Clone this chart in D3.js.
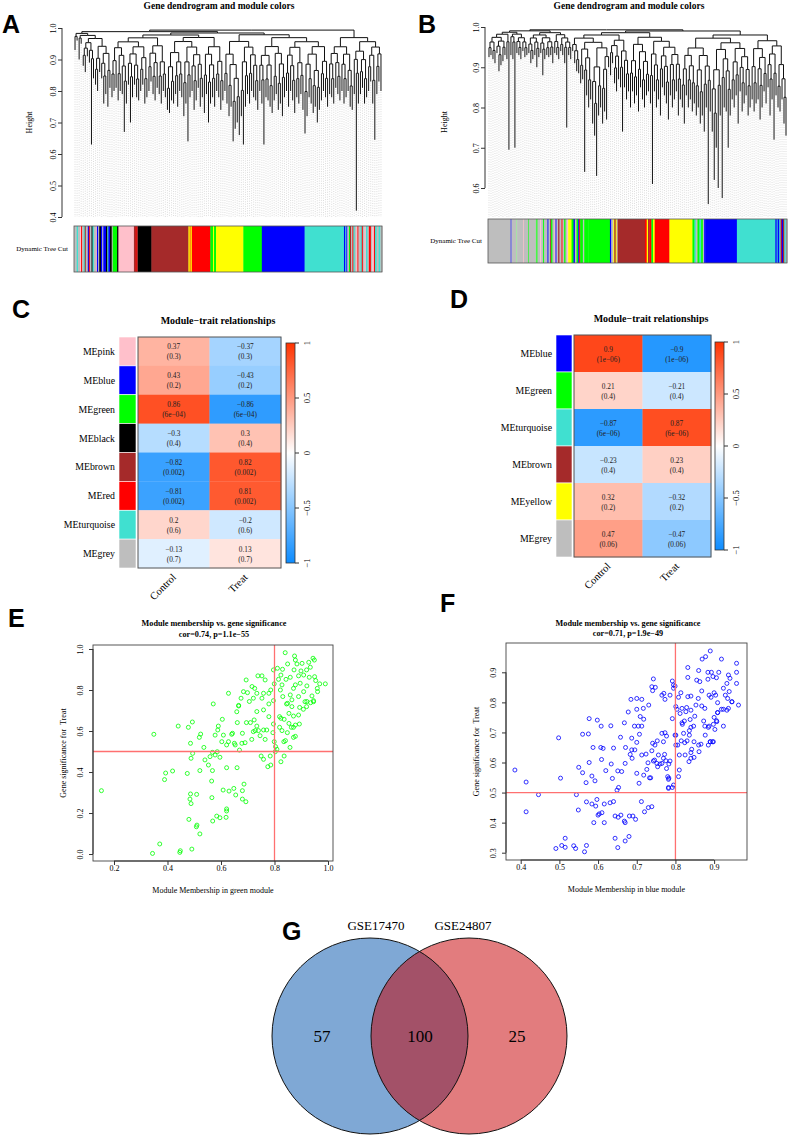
<!DOCTYPE html>
<html>
<head>
<meta charset="utf-8">
<script src="https://cdn.jsdelivr.net/npm/d3@7"></script>
<style>body{margin:0;background:#fff}</style>
</head>
<body>
<script>
// ---------- data ----------
// dendrogram leaf heights (bottom of each leaf line), read left to right
const leavesA = [0.93,0.96,0.90,0.95,0.88,0.86,0.91,0.89,0.63,0.84,0.82,0.80,0.86,0.84,0.76,
  0.79,0.75,0.81,0.78,0.80,0.81,0.77,0.80,0.79,0.67,0.76,0.82,0.70,0.78,0.82,
  0.78,0.77,0.80,0.82,0.76,0.78,0.80,0.83,0.79,0.77,0.81,0.79,0.76,0.80,0.78,
  0.74,0.73,0.77,0.76,0.79,0.75,0.80,0.78,0.72,0.76,0.64,0.78,0.80,0.74,0.77,
  0.81,0.75,0.78,0.73,0.79,0.70,0.76,0.78,0.75,0.80,0.78,0.74,0.77,0.80,0.76,
  0.72,0.75,0.64,0.68,0.70,0.66,0.72,0.63,0.75,0.79,0.76,0.80,0.78,0.77,0.74,
  0.80,0.76,0.63,0.78,0.77,0.75,0.73,0.77,0.79,0.74,0.76,0.72,0.78,0.80,0.75,
  0.80,0.77,0.73,0.78,0.76,0.79,0.74,0.665,0.72,0.78,0.76,0.73,0.75,0.70,0.74,
  0.77,0.80,0.78,0.75,0.79,0.78,0.76,0.81,0.79,0.77,0.80,0.76,0.78,0.80,0.75,
  0.74,0.79,0.42,0.76,0.79,0.81,0.76,0.78,0.80,0.83,0.76,0.645,0.79,0.83,0.80];
const leavesB = [0.925,0.93,0.92,0.91,0.935,0.89,0.905,0.915,0.93,0.92,0.695,0.93,0.92,0.70,0.935,
  0.93,0.92,0.94,0.925,0.93,0.935,0.91,0.92,0.93,0.90,0.925,0.935,0.88,0.92,0.93,
  0.925,0.93,0.91,0.935,0.93,0.92,0.94,0.93,0.91,0.75,0.93,0.92,0.94,0.91,0.89,
  0.885,0.86,0.87,0.64,0.83,0.80,0.82,0.76,0.73,0.63,0.78,0.80,0.76,0.79,0.77,
  0.90,0.88,0.91,0.86,0.84,0.87,0.85,0.74,0.85,0.82,0.84,0.80,0.84,0.81,0.83,
  0.79,0.85,0.82,0.80,0.83,0.84,0.81,0.61,0.84,0.80,0.82,0.78,0.85,0.83,0.81,
  0.77,0.83,0.80,0.82,0.84,0.78,0.82,0.80,0.76,0.83,0.80,0.82,0.79,0.81,0.78,
  0.80,0.76,0.78,0.74,0.80,0.56,0.79,0.74,0.62,0.70,0.60,0.78,0.575,0.80,0.79,
  0.70,0.78,0.82,0.80,0.83,0.76,0.84,0.79,0.81,0.83,0.78,0.80,0.82,0.79,0.81,
  0.82,0.77,0.80,0.84,0.81,0.85,0.78,0.82,0.72,0.83,0.80,0.79,0.82,0.76,0.73];

// module colour strips (colour, relative width)
const stripColA = ['grey','turquoise','grey','pink','red','grey','turquoise','brown','grey','blue','red','grey','black','turquoise','grey','pink','blue','grey',
  'black','blue','grey','blue','black','turquoise','blue','black','grey',
  'green','black','pink','brown','red','brown','black','brown','yellow','red','yellow','red',
  'green','yellow','green','yellow','green','blue','turquoise',
  'blue','turquoise','blue','grey','green','brown','grey','red','turquoise','grey','pink','red','grey','turquoise','red','grey','pink','turquoise','grey','red','grey','pink','red','turquoise','grey','turquoise','grey'];
const stripSizeA = [8,4,6,3,3,5,3,3,6,3,3,5,3,4,6,3,4,3,
  5,4,3,8,4,3,5,5,3,
  13,4,46,5,3,4,40,110,4,2,4,55,
  8,3,6,81,55,127,117,
  4,3,3,5,3,3,4,3,4,5,3,3,6,4,3,5,4,5,4,6,4,5,3,5,6,5,5];
const stripColB = ['grey','blue',
  'grey','lightgreen','grey','pink','grey','green','grey','lightgreen',
  'green','grey','pink','grey','green','grey','blue','grey','brown','green','grey','pink','blue','grey','brown','grey','red','grey','green','grey','pink',
  'yellow','green','blue','grey','green','blue','red','green','grey','green',
  'green','blue','grey','yellow','brown','yellow','grey','brown',
  'red','yellow','brown','red','green','yellow','red',
  'red','yellow','green','turquoise','grey','green','turquoise','green','grey','blue',
  'blue','turquoise','blue','turquoise','blue','turquoise','red','blue','brown','turquoise','grey'];
const stripSizeB = [68,2,
  15,2,18,2,14,2,20,2,
  3,8,3,6,3,10,3,5,3,4,6,3,3,5,4,6,3,5,4,4,4,
  10,6,4,5,5,3,3,8,4,12,
  65,4,6,3,4,3,3,82,
  5,4,4,6,5,5,6,
  38,69,6,4,5,6,5,5,4,3,
  95,115,4,3,5,4,3,4,4,4,4];

// module-trait heatmaps
const traits = ['Control','Treat'];
const modulesC = ['MEpink','MEblue','MEgreen','MEblack','MEbrown','MEred','MEturquoise','MEgrey'];
const colorsC = ['pink','blue','green','black','brown','red','turquoise','grey'];
const corCtrlC = [0.37,0.43,0.86,-0.3,-0.82,-0.81,0.2,-0.13];
const corTreatC = [-0.37,-0.43,-0.86,0.3,0.82,0.81,-0.2,0.13];
const pC = ['0.3','0.2','6e−04','0.4','0.002','0.002','0.6','0.7'];
const modulesD = ['MEblue','MEgreen','MEturquoise','MEbrown','MEyellow','MEgrey'];
const colorsD = ['blue','green','turquoise','brown','yellow','grey'];
const corCtrlD = [0.9,0.21,-0.87,-0.23,0.32,0.47];
const corTreatD = [-0.9,-0.21,0.87,0.23,-0.32,-0.47];
const pD = ['1e−06','0.4','6e−06','0.4','0.2','0.06'];
const legendTicks = [-1,-0.5,0,0.5,1];

// module membership vs gene significance
const ptsE = [[0.153,0.309],[0.349,0.584],[0.44,0.624],[0.478,0.618],[0.493,0.644],[0.524,0.585],[0.519,0.569],[0.486,0.54],[0.536,0.52],[0.494,0.491],[0.488,0.467],[0.54,0.459],[0.553,0.434],[0.568,0.496],[0.559,0.475],[0.578,0.483],[0.586,0.499],[0.596,0.472],[0.571,0.732],[0.588,0.605],[0.59,0.624],[0.578,0.58],[0.603,0.548],[0.609,0.58],[0.605,0.657],[0.643,0.589],[0.64,0.584],[0.628,0.548],[0.621,0.532],[0.653,0.532],[0.65,0.54],[0.669,0.507],[0.678,0.54],[0.69,0.543],[0.661,0.641],[0.659,0.694],[0.666,0.725],[0.68,0.589],[0.695,0.641],[0.71,0.641],[0.724,0.654],[0.734,0.624],[0.715,0.559],[0.721,0.597],[0.728,0.602],[0.74,0.602],[0.746,0.577],[0.759,0.605],[0.771,0.605],[0.765,0.559],[0.75,0.478],[0.759,0.462],[0.784,0.478],[0.775,0.426],[0.786,0.434],[0.794,0.592],[0.796,0.634],[0.799,0.548],[0.804,0.524],[0.809,0.511],[0.803,0.499],[0.824,0.45],[0.836,0.478],[0.819,0.618],[0.828,0.602],[0.836,0.657],[0.824,0.662],[0.835,0.548],[0.841,0.553],[0.858,0.52],[0.848,0.592],[0.854,0.637],[0.863,0.618],[0.871,0.569],[0.878,0.574],[0.871,0.618],[0.878,0.629],[0.893,0.634],[0.89,0.678],[0.894,0.715],[0.871,0.673],[0.854,0.686],[0.845,0.732],[0.908,0.706],[0.92,0.719],[0.935,0.738],[0.946,0.743],[0.914,0.743],[0.865,0.719],
  [0.393,0.395],[0.419,0.405],[0.389,0.363],[0.474,0.393],[0.521,0.407],[0.568,0.407],[0.565,0.356],[0.621,0.421],[0.66,0.421],[0.486,0.293],[0.509,0.291],[0.484,0.268],[0.488,0.246],[0.566,0.275],[0.608,0.312],[0.63,0.307],[0.648,0.32],[0.655,0.288],[0.68,0.309],[0.686,0.341],[0.68,0.268],[0.693,0.255],[0.621,0.22],[0.621,0.21],[0.584,0.185],[0.596,0.177],[0.619,0.179],[0.569,0.161],[0.48,0.169],[0.51,0.141],[0.508,0.133],[0.521,0.098],[0.371,0.049],[0.344,0.003],[0.446,0.008],[0.448,0.016],[0.491,0.024],
  [0.84,0.982],[0.875,0.966],[0.878,0.946],[0.884,0.927],[0.849,0.927],[0.903,0.93],[0.928,0.935],[0.944,0.955],[0.949,0.946],[0.934,0.911],[0.92,0.898],[0.899,0.893],[0.873,0.898],[0.83,0.901],[0.811,0.906],[0.796,0.898],[0.824,0.873],[0.843,0.852],[0.815,0.852],[0.799,0.83],[0.828,0.825],[0.859,0.862],[0.89,0.869],[0.909,0.873],[0.93,0.862],[0.95,0.865],[0.954,0.846],[0.969,0.83],[0.99,0.83],[0.96,0.808],[0.961,0.792],[0.921,0.82],[0.896,0.833],[0.871,0.808],[0.878,0.825],[0.909,0.792],[0.89,0.768],[0.94,0.771],[0.946,0.748],[0.921,0.744],[0.859,0.776],[0.849,0.735],[0.865,0.752],[0.831,0.768],[0.822,0.8],[0.786,0.8],[0.765,0.849],[0.753,0.869],[0.738,0.869],[0.694,0.849],[0.684,0.792],[0.699,0.787],[0.716,0.817],[0.726,0.808],[0.734,0.784],[0.759,0.784],[0.779,0.784],[0.753,0.76],[0.721,0.76],[0.706,0.744],[0.675,0.76],[0.666,0.722],[0.628,0.784],[0.779,0.732],[0.796,0.748],[0.759,0.703],[0.734,0.695],[0.779,0.67],[0.819,0.67]];
const ptsF = [[0.385,0.575],[0.414,0.535],[0.414,0.436],[0.446,0.493],[0.498,0.682],[0.503,0.548],[0.491,0.314],[0.506,0.324],[0.515,0.318],[0.515,0.348],[0.537,0.323],[0.542,0.314],[0.57,0.324],[0.565,0.303],[0.544,0.493],[0.549,0.442],[0.55,0.584],[0.56,0.566],[0.56,0.694],[0.575,0.695],[0.577,0.746],[0.598,0.741],[0.608,0.721],[0.633,0.722],[0.569,0.533],[0.577,0.6],[0.587,0.65],[0.592,0.539],[0.584,0.555],[0.57,0.469],[0.584,0.462],[0.594,0.455],[0.597,0.477],[0.6,0.425],[0.603,0.429],[0.61,0.433],[0.589,0.4],[0.616,0.4],[0.607,0.65],[0.613,0.647],[0.609,0.61],[0.62,0.573],[0.634,0.595],[0.637,0.547],[0.64,0.648],[0.651,0.572],[0.661,0.57],[0.653,0.517],[0.649,0.508],[0.616,0.462],[0.631,0.466],[0.64,0.47],[0.644,0.422],[0.652,0.418],[0.659,0.425],[0.644,0.348],[0.651,0.317],[0.67,0.339],[0.68,0.354],[0.668,0.405],[0.67,0.4],[0.681,0.422],[0.69,0.422],[0.697,0.411],[0.712,0.47],[0.72,0.436],[0.73,0.45],[0.739,0.453],[0.67,0.597],[0.658,0.684],[0.668,0.732],[0.671,0.65],[0.687,0.642],[0.683,0.627],[0.688,0.614],[0.695,0.642],[0.7,0.667],[0.707,0.694],[0.687,0.681],[0.694,0.721],[0.704,0.721],[0.713,0.721],[0.718,0.744],[0.709,0.753],[0.678,0.768],[0.7,0.564],[0.706,0.531],[0.718,0.558],[0.726,0.577],[0.729,0.599],[0.724,0.628],[0.713,0.625],[0.739,0.639],[0.741,0.664],[0.747,0.658],[0.753,0.672],[0.743,0.605],[0.746,0.608],[0.733,0.549],[0.736,0.549],[0.752,0.597],[0.756,0.625],[0.765,0.697],[0.773,0.699],[0.777,0.688],[0.769,0.669],[0.772,0.627],[0.769,0.614],[0.765,0.597],[0.775,0.606],[0.754,0.586],[0.76,0.595],[0.777,0.58],[0.78,0.553],[0.783,0.548],[0.782,0.517],[0.782,0.514],[0.782,0.544],[0.783,0.595],[0.786,0.605],[0.792,0.517],[0.795,0.525],[0.799,0.691],[0.801,0.691],[0.801,0.786],[0.804,0.777],[0.792,0.746],[0.812,0.763],[0.801,0.658],[0.806,0.658],[0.81,0.625],[0.81,0.575],[0.808,0.553],[0.815,0.672],[0.821,0.697],[0.824,0.666],[0.817,0.732],[0.818,0.727],[0.823,0.738],[0.836,0.706],[0.84,0.717],[0.838,0.743],[0.83,0.672],[0.825,0.625],[0.835,0.603],[0.84,0.614],[0.84,0.633],[0.848,0.617],[0.842,0.644],[0.848,0.669],[0.836,0.691],[0.847,0.721],[0.86,0.658],[0.866,0.661],[0.861,0.636],[0.877,0.691],[0.876,0.721],[0.873,0.738],[0.885,0.658],[0.89,0.669],[0.898,0.669],[0.885,0.717],[0.902,0.71],[0.906,0.739],[0.909,0.766],[0.898,0.727],[0.924,0.721],[0.924,0.777],[0.933,0.774],[0.963,0.791],[0.946,0.802],
  [0.89,0.971],[0.878,0.952],[0.869,0.944],[0.919,0.944],[0.958,0.93],[0.832,0.916],[0.86,0.906],[0.884,0.9],[0.893,0.9],[0.912,0.9],[0.958,0.9],[0.897,0.886],[0.884,0.877],[0.906,0.882],[0.937,0.891],[0.941,0.88],[0.832,0.883],[0.855,0.874],[0.863,0.869],[0.743,0.878],[0.792,0.871],[0.795,0.858],[0.795,0.847],[0.799,0.854],[0.814,0.832],[0.832,0.819],[0.84,0.821],[0.859,0.813],[0.868,0.838],[0.887,0.824],[0.892,0.817],[0.9,0.832],[0.904,0.824],[0.924,0.847],[0.933,0.863],[0.958,0.863],[0.939,0.836],[0.929,0.824],[0.935,0.813],[0.946,0.802],[0.909,0.799],[0.937,0.78],[0.919,0.777],[0.909,0.766],[0.9,0.75],[0.887,0.721],[0.89,0.669],[0.896,0.669],[0.907,0.736],[0.713,0.81],[0.7,0.813],[0.739,0.852],[0.748,0.85],[0.741,0.839],[0.773,0.81],[0.808,0.817],[0.786,0.824],[0.77,0.83],[0.765,0.824],[0.685,0.81],[0.7,0.777],[0.717,0.78],[0.731,0.791],[0.817,0.78],[0.827,0.769],[0.829,0.783],[0.84,0.774],[0.853,0.791],[0.85,0.754],[0.868,0.788],[0.876,0.78]];

// venn counts
const vennSets = ['GSE17470','GSE24807'];
const vennCounts = [57,100,25];

// ---------- drawing ----------
const rcol = {grey:'#bebebe',green:'#00ff00',brown:'#a52a2a',turquoise:'#40e0d0',pink:'#ffc0cb',
  yellow:'#ffff00',red:'#ff0000',blue:'#0000ff',black:'#000000',lightgreen:'#90ee90'};
const SERIF = '"Liberation Serif","Times New Roman",serif';
const SANS = '"Liberation Sans",Arial,sans-serif';
const minus = v => (v < 0 ? '\u2212' : '') + Math.abs(v);

const svg = d3.select('body').append('svg').attr('width',789).attr('height',1136)
  .style('font-family',SERIF);

function letter(t,x,y){
  svg.append('text').attr('x',x).attr('y',y).attr('font-family',SANS).attr('font-weight','bold')
    .attr('font-size',25).text(t);
}
function title(lines,x,y,size){
  lines.forEach((l,i)=>svg.append('text').attr('x',x).attr('y',y+i*10.5).attr('text-anchor','middle')
    .attr('font-weight','bold').attr('font-size',size).text(l));
}

// R style axis: line only between first and last tick, labels rotated on vertical axes
function rAxis(g, scale, ticks, orient, pos, off, size){
  const ax = orient==='left' ? d3.axisLeft(scale) : d3.axisBottom(scale);
  const a = g.append('g').attr('transform', orient==='left' ? `translate(${pos},0)` : `translate(0,${pos})`)
    .call(ax.tickValues(ticks).tickSize(4).tickSizeOuter(0).tickFormat(d3.format('.1f')))
    .attr('font-family',SERIF).attr('font-size',size);
  const r = ticks.map(scale);
  a.select('.domain').attr('stroke','#333').attr('d', orient==='left' ? `M0,${r[0]}V${r[r.length-1]}` : `M${r[0]},0H${r[r.length-1]}`);
  a.selectAll('.tick line').attr('stroke','#333');
  if(orient==='left'){
    a.selectAll('.tick text').attr('x',null).attr('dy',null).attr('text-anchor','middle')
      .attr('transform',`translate(${-off},0) rotate(-90)`);
  } else {
    a.selectAll('.tick text').attr('y',off).attr('dy',null);
  }
  return a;
}

// agglomerate neighbouring leaves, lowest pair first
function buildTree(hs){
  let nodes = hs.map((h,i)=>({h, leaf:i}));
  while(nodes.length > 1){
    let best = 0, bh = Infinity;
    for(let i=0;i<nodes.length-1;i++){
      const m = Math.max(nodes[i].h, nodes[i+1].h);
      if(m < bh){ bh = m; best = i; }
    }
    const a = nodes[best], b = nodes[best+1];
    const node = {h: Math.min(0.998, bh + (1-bh)*0.26 + Math.abs(a.h-b.h)*0.1), children:[a,b]};
    nodes.splice(best, 2, node);
  }
  return nodes[0];
}

function dendro(o){
  const g = svg.append('g');
  const y = d3.scaleLinear().domain(o.yDomain).range([o.yb, o.yt]);
  const xl = d3.scalePoint().domain(d3.range(o.leaves.length)).range([o.x0, o.x1]).padding(0.5);
  const root = d3.hierarchy(buildTree(o.leaves));
  root.eachAfter(n => { n.px = n.children ? d3.mean(n.children, c => c.px) : xl(n.data.leaf); });
  g.selectAll('line.guide').data(root.leaves()).join('line')
    .attr('x1',d=>d.px).attr('x2',d=>d.px).attr('y1',d=>y(d.data.h)+1).attr('y2',o.yb)
    .attr('stroke','#c4c4c4').attr('stroke-width',0.6).attr('stroke-dasharray','1,1.4');
  g.selectAll('path.link').data(root.links()).join('path')
    .attr('d',l=>`M${l.target.px},${y(l.target.data.h)}V${y(l.source.data.h)}H${l.source.px}`)
    .attr('fill','none').attr('stroke','#111').attr('stroke-width',1.0);
  rAxis(g, y, o.ticks, 'left', o.ax, 6, 8);
  g.append('text').attr('transform',`translate(${o.hx},${(o.yt+o.yb)/2}) rotate(-90)`)
    .attr('text-anchor','middle').attr('font-size',8).text('Height');
  // colour strip
  const cum = [0, ...d3.cumsum(o.sizes)];
  const xs = d3.scaleLinear().domain([0, cum[cum.length-1]]).range([o.x0, o.x1]);
  g.selectAll('rect.strip').data(o.colors).join('rect')
    .attr('x',(d,i)=>xs(cum[i])).attr('width',(d,i)=>xs(cum[i+1])-xs(cum[i])+0.4)
    .attr('y',o.cy0).attr('height',o.cy1-o.cy0).attr('fill',d=>rcol[d]);
  g.append('rect').attr('x',o.x0).attr('y',o.cy0).attr('width',o.x1-o.x0).attr('height',o.cy1-o.cy0)
    .attr('fill','none').attr('stroke','#555').attr('stroke-width',0.8);
  g.append('text').attr('x',o.x0-6).attr('y',(o.cy0+o.cy1)/2+2).attr('text-anchor','end')
    .attr('font-size',7).text('Dynamic Tree Cut');
}

const heatColor = d3.scaleLinear().domain([-1,0,1]).range(['rgb(13,140,255)','#ffffff','rgb(255,51,0)']);

function heatmap(o){
  const g = svg.append('g');
  const y = d3.scaleBand().domain(o.modules).range([o.y0, o.y1]);
  const x = d3.scaleBand().domain(traits).range([o.hx0, o.hx1]);
  g.selectAll('rect.mc').data(o.modules).join('rect')
    .attr('x',o.cx0).attr('width',o.cx1-o.cx0).attr('y',d=>y(d)).attr('height',y.bandwidth())
    .attr('fill',(d,i)=>rcol[o.colors[i]]).attr('stroke','#fff').attr('stroke-width',0.6);
  g.selectAll('text.ml').data(o.modules).join('text')
    .attr('x',o.cx0-4).attr('y',d=>y(d)+y.bandwidth()/2+3.5).attr('text-anchor','end')
    .attr('font-size',9.8).text(d=>d);
  const cells = [];
  o.modules.forEach((m,i)=>{
    cells.push({m, t:'Control', v:o.ctrl[i], p:o.p[i]});
    cells.push({m, t:'Treat', v:o.treat[i], p:o.p[i]});
  });
  g.selectAll('rect.cell').data(cells).join('rect')
    .attr('x',d=>x(d.t)).attr('y',d=>y(d.m)).attr('width',x.bandwidth()+0.3).attr('height',y.bandwidth()+0.3)
    .attr('fill',d=>heatColor(d.v));
  const ct = g.selectAll('g.ct').data(cells).join('g')
    .attr('transform',d=>`translate(${x(d.t)+x.bandwidth()/2},${y(d.m)+y.bandwidth()/2})`)
    .attr('text-anchor','middle').attr('font-size',7.3).attr('fill','#222');
  ct.append('text').attr('y',-2).text(d=>minus(d.v));
  ct.append('text').attr('y',8).text(d=>'('+d.p+')');
  g.append('rect').attr('x',o.hx0).attr('y',o.y0).attr('width',o.hx1-o.hx0).attr('height',o.y1-o.y0)
    .attr('fill','none').attr('stroke','#555').attr('stroke-width',1);
  g.selectAll('text.tl').data(traits).join('text')
    .attr('transform',d=>`translate(${x(d)+x.bandwidth()/2+3},${o.y1+10}) rotate(-45)`)
    .attr('text-anchor','end').attr('font-size',10.5).text(d=>d);
  // legend
  const gid = 'grad' + o.id;
  const grad = svg.append('defs').append('linearGradient').attr('id',gid)
    .attr('x1',0).attr('x2',0).attr('y1',1).attr('y2',0);
  d3.range(0,1.0001,0.1).forEach(t=>grad.append('stop').attr('offset',t).attr('stop-color',heatColor(t*2-1)));
  const ly = d3.scaleLinear().domain([-1,1]).range([o.ly1, o.ly0]);
  g.append('rect').attr('x',o.lx).attr('y',o.ly0).attr('width',9).attr('height',o.ly1-o.ly0)
    .attr('fill',`url(#${gid})`).attr('stroke','#333').attr('stroke-width',0.8);
  const lt = g.selectAll('g.lt').data(legendTicks).join('g').attr('transform',d=>`translate(${o.lx+9},${ly(d)})`);
  lt.append('line').attr('x2',4).attr('stroke','#333');
  lt.append('text').attr('transform','translate(15,0) rotate(-90)').attr('text-anchor','middle')
    .attr('font-size',8.5).text(d=>minus(d));
}

function scatter(o){
  const g = svg.append('g');
  const x = d3.scaleLinear().domain(o.xDomain).range([o.bx0, o.bx1]);
  const y = d3.scaleLinear().domain(o.yDomain).range([o.by1, o.by0]);
  g.selectAll('circle').data(o.pts).join('circle')
    .attr('cx',d=>x(d[0])).attr('cy',d=>y(d[1])).attr('r',2)
    .attr('fill','none').attr('stroke',o.color).attr('stroke-width',0.8);
  g.append('line').attr('x1',x(0.8)).attr('x2',x(0.8)).attr('y1',o.by0).attr('y2',o.by1)
    .attr('stroke','#ff7070').attr('stroke-width',1.3);
  g.append('line').attr('x1',o.bx0).attr('x2',o.bx1).attr('y1',y(0.5)).attr('y2',y(0.5))
    .attr('stroke','#ff7070').attr('stroke-width',1.3);
  g.append('rect').attr('x',o.bx0).attr('y',o.by0).attr('width',o.bx1-o.bx0).attr('height',o.by1-o.by0)
    .attr('fill','none').attr('stroke','#444').attr('stroke-width',0.9);
  rAxis(g, x, o.xTicks, 'bottom', o.by1, 10, 8);
  rAxis(g, y, o.yTicks, 'left', o.bx0, 10, 8);
  g.append('text').attr('x',(o.bx0+o.bx1)/2).attr('y',o.by1+32).attr('text-anchor','middle')
    .attr('font-size',8).text(o.xLabel);
  g.append('text').attr('transform',`translate(${o.bx0-27},${(o.by0+o.by1)/2}) rotate(-90)`)
    .attr('text-anchor','middle').attr('font-size',8).attr('xml:space','preserve').text('Gene significance for  Treat');
}

// A, B dendrograms
letter('A',2,33);
title(['Gene dendrogram and module colors'],219,9,9.5);
dendro({leaves:leavesA, yDomain:[0.4,1.0], yb:217, yt:28, x0:74, x1:382, ax:62, hx:32,
  ticks:[0.4,0.5,0.6,0.7,0.8,0.9,1.0], colors:stripColA, sizes:stripSizeA, cy0:226, cy1:272});
letter('B',418,33);
title(['Gene dendrogram and module colors'],629,9,9.5);
dendro({leaves:leavesB, yDomain:[0.528,1.0], yb:217, yt:27, x0:488, x1:787, ax:485, hx:447,
  ticks:[0.6,0.7,0.8,0.9,1.0], colors:stripColB, sizes:stripSizeB, cy0:219, cy1:263});

// C, D heatmaps
letter('C',12,318);
title(['Module\u2212trait relationships'],218,324,10);
heatmap({id:'C', modules:modulesC, colors:colorsC, ctrl:corCtrlC, treat:corTreatC, p:pC,
  cx0:119, cx1:136, hx0:138, hx1:281, y0:337, y1:568, lx:286, ly0:343, ly1:563});
letter('D',450,308);
title(['Module\u2212trait relationships'],651,322,10);
heatmap({id:'D', modules:modulesD, colors:colorsD, ctrl:corCtrlD, treat:corTreatD, p:pD,
  cx0:556, cx1:572, hx0:574, hx1:711, y0:335, y1:557, lx:715, ly0:342, ly1:550});

// E, F scatter plots
letter('E',8,627);
title(['Module membership vs. gene significance','cor=0.74, p=1.1e\u221255'],214,626,8.2);
scatter({pts:ptsE, color:'#00ff00', xDomain:[0.1215,1.0187], yDomain:[-0.034,1.0195],
  bx0:93, bx1:333, by0:645, by1:861, xTicks:[0.2,0.4,0.6,0.8,1.0], yTicks:[0,0.2,0.4,0.6,0.8,1.0],
  xLabel:'Module Membership in green module'});
letter('F',440,612);
title(['Module membership vs. gene significance','cor=0.71, p=1.9e\u221249'],628,625.5,8.2);
scatter({pts:ptsF, color:'#0000ff', xDomain:[0.362,0.985], yDomain:[0.2757,0.9975],
  bx0:506, bx1:747, by0:643, by1:860, xTicks:[0.4,0.5,0.6,0.7,0.8,0.9], yTicks:[0.3,0.4,0.5,0.6,0.7,0.8,0.9],
  xLabel:'Module Membership in blue module'});

// G venn
letter('G',282,940);
const vx = d3.scaleLinear().domain([0,1]).range([370,469]);
const vg = svg.append('g');
const vr = 98, vcy = 1036;
vg.append('clipPath').attr('id','clipL').append('circle').attr('cx',vx(0)).attr('cy',vcy).attr('r',vr);
vg.append('circle').attr('cx',vx(0)).attr('cy',vcy).attr('r',vr).attr('fill','#7fa8d5');
vg.append('circle').attr('cx',vx(1)).attr('cy',vcy).attr('r',vr).attr('fill','#e27c7e');
vg.append('circle').attr('cx',vx(1)).attr('cy',vcy).attr('r',vr).attr('fill','#a35168').attr('clip-path','url(#clipL)');
[0,1].forEach(i=>vg.append('circle').attr('cx',vx(i)).attr('cy',vcy).attr('r',vr)
  .attr('fill','none').attr('stroke','#111').attr('stroke-width',1));
vg.selectAll('text.set').data(vennSets).join('text')
  .attr('x',(d,i)=>vx(i)+(i?-6:6)).attr('y',930).attr('text-anchor','middle').attr('font-size',13).text(d=>d);
vg.selectAll('text.cnt').data(vennCounts).join('text')
  .attr('x',(d,i)=>[322,420,517][i]).attr('y',vcy+6).attr('text-anchor','middle').attr('font-size',17).text(d=>d);
</script>
</body>
</html>
